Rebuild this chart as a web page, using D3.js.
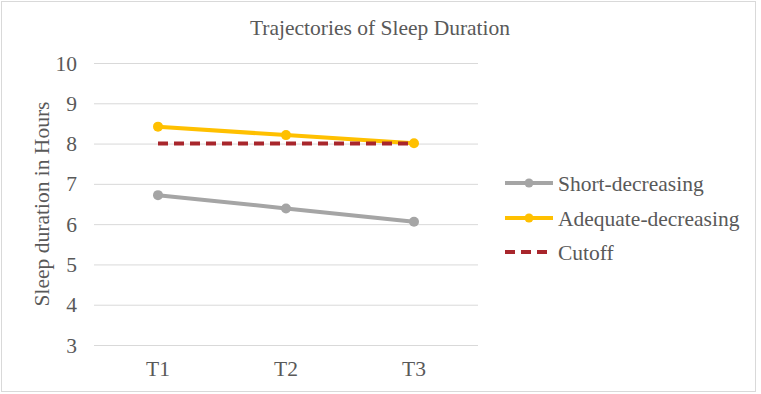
<!DOCTYPE html>
<html>
<head>
<meta charset="UTF-8">
<title>Trajectories of Sleep Duration</title>
<script src="https://d3js.org/d3.v7.min.js"></script>
<style>
  body { margin: 0; background: #fff; }
  text { font-family: "Liberation Serif", "Times New Roman", serif; fill: #595959; }
</style>
</head>
<body>
<script>
  // data
  var categories = ["T1", "T2", "T3"];
  var shortDecreasing = [6.72, 6.39, 6.06];
  var adequateDecreasing = [8.42, 8.21, 8.01];
  var cutoff = [8, 8, 8];
  var yTicks = [3, 4, 5, 6, 7, 8, 9, 10];

  var series = [
    { name: "Short-decreasing", values: shortDecreasing, color: "#A5A5A5", dash: null, marker: true },
    { name: "Adequate-decreasing", values: adequateDecreasing, color: "#FFC000", dash: null, marker: true },
    { name: "Cutoff", values: cutoff, color: "#A8262C", dash: "10,6", marker: false }
  ];

  var width = 761, height = 394;
  var plotLeft = 94, plotRight = 478, plotTop = 63, plotBottom = 345;
  var fontSize = 21.5;

  var svg = d3.select("body").append("svg")
    .attr("width", width).attr("height", height);

  // chart frame
  svg.append("rect")
    .attr("x", 1.5).attr("y", 1.5)
    .attr("width", 754).attr("height", 390)
    .attr("fill", "#fff").attr("stroke", "#d9d9d9");

  var x = d3.scaleBand().domain(categories).range([plotLeft, plotRight]);
  var y = d3.scaleLinear().domain([3, 10]).range([plotBottom, plotTop]);

  // gridlines
  svg.append("g").selectAll("line").data(yTicks).join("line")
    .attr("x1", plotLeft).attr("x2", plotRight)
    .attr("y1", function (d) { return y(d) + 0.5; })
    .attr("y2", function (d) { return y(d) + 0.5; })
    .attr("stroke", "#d9d9d9").attr("stroke-width", 1);

  // y axis labels
  var yAxis = d3.axisLeft(y).tickValues(yTicks).tickFormat(d3.format("d")).tickSize(0).tickPadding(0);
  var gy = svg.append("g").attr("transform", "translate(" + (plotLeft - 17) + ",0)").call(yAxis);
  gy.select(".domain").remove();
  gy.selectAll("text").attr("font-size", fontSize).attr("dy", "0.33em").attr("fill", "#595959")
    .attr("font-family", "Liberation Serif, serif");

  // x axis labels
  var xAxis = d3.axisBottom(x).tickSize(0).tickPadding(0);
  var gx = svg.append("g").attr("transform", "translate(0," + (plotBottom + 16) + ")").call(xAxis);
  gx.select(".domain").remove();
  gx.selectAll("text").attr("font-size", fontSize).attr("dy", "0.71em").attr("fill", "#595959")
    .attr("font-family", "Liberation Serif, serif");

  // title
  svg.append("text")
    .attr("x", 380).attr("y", 35)
    .attr("text-anchor", "middle")
    .attr("font-size", fontSize)
    .text("Trajectories of Sleep Duration");

  // y axis title
  svg.append("text")
    .attr("transform", "translate(41," + ((plotTop + plotBottom) / 2) + ") rotate(-90)")
    .attr("text-anchor", "middle")
    .attr("dy", "0.35em")
    .attr("font-size", fontSize)
    .text("Sleep duration in Hours");

  var line = d3.line()
    .x(function (d, i) { return x(categories[i]) + x.bandwidth() / 2; })
    .y(function (d) { return y(d); });

  // draw order: short, adequate, then cutoff on top
  series.forEach(function (s) {
    svg.append("path")
      .datum(s.values)
      .attr("d", line)
      .attr("fill", "none")
      .attr("stroke", s.color)
      .attr("stroke-width", 4)
      .attr("stroke-dasharray", s.dash);
    if (s.marker) {
      svg.append("g").selectAll("circle").data(s.values).join("circle")
        .attr("cx", function (d, i) { return x(categories[i]) + x.bandwidth() / 2; })
        .attr("cy", function (d) { return y(d); })
        .attr("r", 5)
        .attr("fill", s.color);
    }
  });

  // legend
  var legendY = [183, 218, 252];
  var legend = svg.append("g");
  series.forEach(function (s, i) {
    var g = legend.append("g").attr("transform", "translate(505," + legendY[i] + ")");
    g.append("line")
      .attr("x1", 0).attr("x2", 48)
      .attr("stroke", s.color).attr("stroke-width", 4)
      .attr("stroke-dasharray", s.dash);
    if (s.marker) {
      g.append("circle").attr("cx", 24).attr("r", 4.5).attr("fill", s.color);
    }
    g.append("text")
      .attr("x", 53).attr("dy", "0.35em")
      .attr("font-size", fontSize)
      .text(s.name);
  });
</script>
</body>
</html>
